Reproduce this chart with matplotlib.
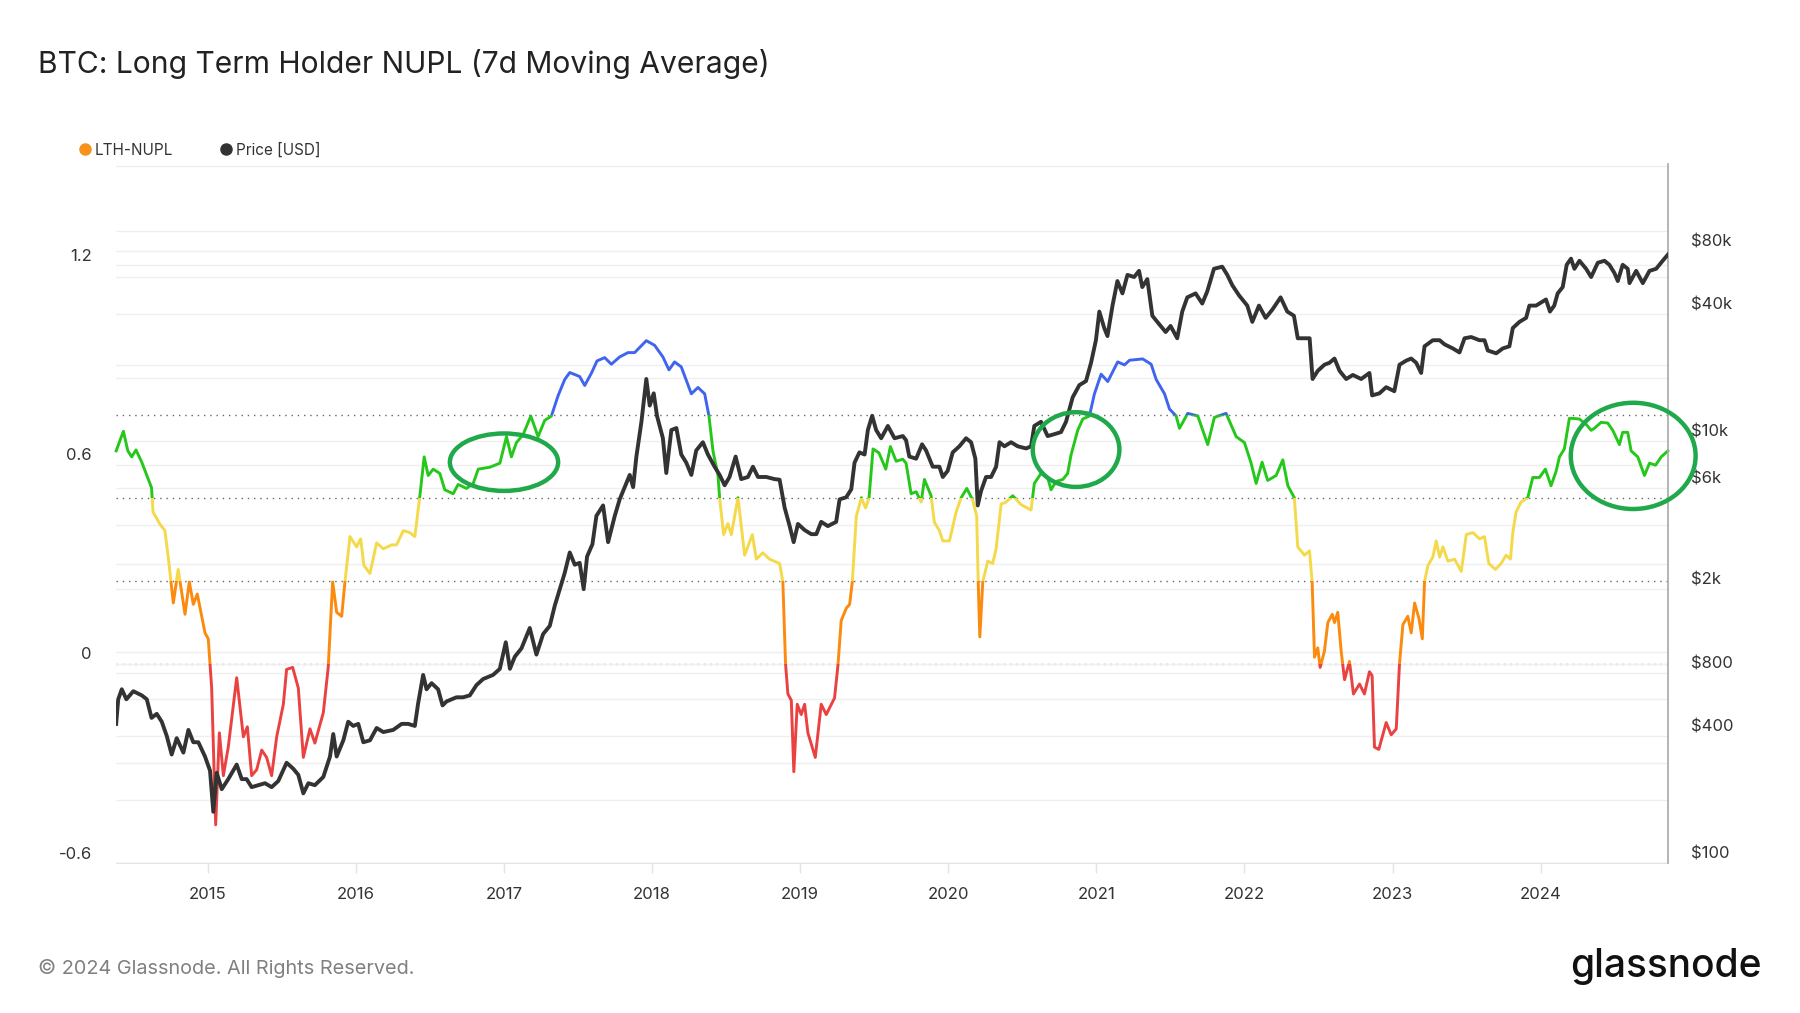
import numpy as np
import matplotlib
matplotlib.use("Agg")
import matplotlib.pyplot as plt
from matplotlib.patches import Rectangle, Ellipse
from matplotlib.lines import Line2D
from matplotlib.transforms import ScaledTranslation, blended_transform_factory

plt.rcParams["font.family"] = ["Inter", "DejaVu Sans"]

# LTH-NUPL (7d MA), time in decimal years
nupl_t = [2014.381, 2014.43, 2014.46, 2014.486, 2014.515, 2014.554, 2014.588, 2014.62, 2014.63, 2014.677,
          2014.71, 2014.733, 2014.767, 2014.80, 2014.846, 2014.875, 2014.902, 2014.929, 2014.981, 2015.003,
          2015.026, 2015.053, 2015.078, 2015.105, 2015.138, 2015.195, 2015.24, 2015.267, 2015.296, 2015.33,
          2015.364, 2015.397, 2015.431, 2015.465, 2015.51, 2015.532, 2015.573, 2015.611, 2015.645, 2015.69,
          2015.723, 2015.78, 2015.813, 2015.843, 2015.87, 2015.904, 2015.926, 2015.96, 2016.005, 2016.032,
          2016.054, 2016.095, 2016.14, 2016.185, 2016.241, 2016.275, 2016.32, 2016.364, 2016.398, 2016.432,
          2016.461, 2016.488, 2016.522, 2016.567, 2016.60, 2016.657, 2016.69, 2016.747, 2016.792, 2016.826,
          2016.905, 2016.972, 2017.017, 2017.05, 2017.084, 2017.129, 2017.181, 2017.23, 2017.275, 2017.32,
          2017.365, 2017.41, 2017.444, 2017.511, 2017.545, 2017.59, 2017.628, 2017.68, 2017.725, 2017.781,
          2017.837, 2017.882, 2017.961, 2018.017, 2018.073, 2018.114, 2018.152, 2018.197, 2018.265, 2018.31,
          2018.355, 2018.384, 2018.411, 2018.445, 2018.456, 2018.483, 2018.512, 2018.535, 2018.58, 2018.625,
          2018.677, 2018.704, 2018.748, 2018.793, 2018.861, 2018.883, 2018.901, 2018.917, 2018.94, 2018.957,
          2018.98, 2019.007, 2019.03, 2019.052, 2019.102, 2019.142, 2019.176, 2019.232, 2019.255, 2019.277,
          2019.311, 2019.334, 2019.352, 2019.379, 2019.413, 2019.442, 2019.465, 2019.492, 2019.532, 2019.578,
          2019.609, 2019.648, 2019.693, 2019.715, 2019.749, 2019.783, 2019.817, 2019.839, 2019.884, 2019.906,
          2019.94, 2019.963, 2020.008, 2020.053, 2020.087, 2020.125, 2020.165, 2020.192, 2020.202, 2020.213,
          2020.233, 2020.267, 2020.30, 2020.323, 2020.357, 2020.39, 2020.435, 2020.492, 2020.559, 2020.581,
          2020.626, 2020.671, 2020.694, 2020.728, 2020.773, 2020.806, 2020.829, 2020.874, 2020.908, 2020.953,
          2020.987, 2021.032, 2021.077, 2021.144, 2021.19, 2021.224, 2021.313, 2021.37, 2021.404, 2021.46,
          2021.494, 2021.539, 2021.561, 2021.617, 2021.685, 2021.752, 2021.797, 2021.876, 2021.944, 2022.0,
          2022.045, 2022.079, 2022.119, 2022.157, 2022.214, 2022.259, 2022.293, 2022.337, 2022.36, 2022.405,
          2022.439, 2022.457, 2022.473, 2022.495, 2022.511, 2022.54, 2022.563, 2022.593, 2022.608, 2022.63,
          2022.653, 2022.676, 2022.709, 2022.736, 2022.777, 2022.81, 2022.844, 2022.862, 2022.878, 2022.907,
          2022.957, 2022.991, 2023.025, 2023.047, 2023.07, 2023.103, 2023.126, 2023.149, 2023.178, 2023.201,
          2023.216, 2023.239, 2023.272, 2023.295, 2023.318, 2023.34, 2023.374, 2023.419, 2023.464, 2023.498,
          2023.543, 2023.587, 2023.621, 2023.65, 2023.695, 2023.733, 2023.767, 2023.796, 2023.812, 2023.834,
          2023.868, 2023.913, 2023.947, 2023.992, 2024.032, 2024.07, 2024.104, 2024.127, 2024.16, 2024.194,
          2024.217, 2024.262, 2024.307, 2024.341, 2024.363, 2024.408, 2024.453, 2024.487, 2024.532, 2024.554,
          2024.588, 2024.611, 2024.656, 2024.701, 2024.735, 2024.776, 2024.814, 2024.859]
nupl_v = [0.641, 0.700, 0.641, 0.623, 0.644, 0.607, 0.567, 0.530, 0.457, 0.420,
          0.401, 0.321, 0.183, 0.284, 0.149, 0.247, 0.179, 0.210, 0.093, 0.075,
          -0.073, -0.485, -0.208, -0.337, -0.251, -0.042, -0.220, -0.190, -0.337, -0.319,
          -0.260, -0.282, -0.337, -0.220, -0.122, -0.017, -0.011, -0.073, -0.282, -0.196,
          -0.239, -0.147, -0.011, 0.247, 0.155, 0.143, 0.247, 0.383, 0.352, 0.376,
          0.296, 0.272, 0.364, 0.346, 0.358, 0.358, 0.401, 0.395, 0.383, 0.506,
          0.623, 0.567, 0.586, 0.573, 0.524, 0.512, 0.540, 0.528, 0.543, 0.586,
          0.592, 0.604, 0.684, 0.623, 0.666, 0.690, 0.746, 0.684, 0.733, 0.746,
          0.807, 0.856, 0.877, 0.865, 0.838, 0.875, 0.912, 0.922, 0.902, 0.924,
          0.937, 0.937, 0.973, 0.959, 0.924, 0.885, 0.909, 0.894, 0.813, 0.832,
          0.813, 0.746, 0.641, 0.567, 0.500, 0.389, 0.422, 0.389, 0.500, 0.327,
          0.389, 0.315, 0.334, 0.315, 0.302, 0.247, 0.001, -0.091, -0.110, -0.325,
          -0.122, -0.153, -0.122, -0.208, -0.282, -0.122, -0.153, -0.103, -0.005, 0.130,
          0.167, 0.179, 0.247, 0.444, 0.500, 0.469, 0.500, 0.647, 0.635, 0.586,
          0.654, 0.610, 0.616, 0.604, 0.512, 0.518, 0.487, 0.555, 0.506, 0.426,
          0.401, 0.370, 0.370, 0.457, 0.500, 0.528, 0.493, 0.444, 0.247, 0.081,
          0.247, 0.309, 0.302, 0.346, 0.481, 0.487, 0.506, 0.479, 0.463, 0.543,
          0.573, 0.561, 0.524, 0.549, 0.555, 0.573, 0.629, 0.703, 0.737, 0.746,
          0.813, 0.872, 0.850, 0.909, 0.900, 0.914, 0.918, 0.902, 0.856, 0.813,
          0.767, 0.746, 0.709, 0.754, 0.746, 0.660, 0.742, 0.754, 0.684, 0.666,
          0.604, 0.543, 0.607, 0.552, 0.567, 0.614, 0.536, 0.500, 0.352, 0.327,
          0.340, 0.247, 0.020, 0.048, -0.011, 0.038, 0.124, 0.149, 0.124, 0.155,
          0.038, -0.048, 0.007, -0.091, -0.061, -0.091, -0.024, -0.036, -0.251, -0.258,
          -0.177, -0.214, -0.196, 0.001, 0.118, 0.143, 0.093, 0.183, 0.137, 0.075,
          0.247, 0.296, 0.321, 0.370, 0.321, 0.352, 0.309, 0.315, 0.278, 0.389,
          0.395, 0.376, 0.383, 0.302, 0.284, 0.302, 0.327, 0.315, 0.395, 0.457,
          0.487, 0.500, 0.561, 0.561, 0.586, 0.536, 0.579, 0.623, 0.647, 0.739,
          0.739, 0.737, 0.721, 0.703, 0.709, 0.727, 0.725, 0.703, 0.660, 0.697,
          0.697, 0.641, 0.623, 0.567, 0.604, 0.598, 0.623, 0.641]

# BTC price [USD], time in decimal years
price_t = [2014.381, 2014.395, 2014.419, 2014.45, 2014.497, 2014.554, 2014.588, 2014.62, 2014.655, 2014.689,
           2014.723, 2014.756, 2014.79, 2014.835, 2014.869, 2014.902, 2014.936, 2014.981, 2015.015, 2015.037,
           2015.06, 2015.094, 2015.138, 2015.195, 2015.229, 2015.262, 2015.296, 2015.341, 2015.386, 2015.431,
           2015.476, 2015.532, 2015.577, 2015.611, 2015.645, 2015.679, 2015.723, 2015.78, 2015.825, 2015.847,
           2015.87, 2015.915, 2015.948, 2015.982, 2016.016, 2016.05, 2016.095, 2016.14, 2016.185, 2016.252,
           2016.309, 2016.353, 2016.398, 2016.42, 2016.454, 2016.477, 2016.511, 2016.555, 2016.585, 2016.612,
           2016.679, 2016.724, 2016.769, 2016.814, 2016.859, 2016.926, 2016.972, 2017.012, 2017.04, 2017.073,
           2017.118, 2017.174, 2017.219, 2017.264, 2017.309, 2017.343, 2017.377, 2017.41, 2017.444, 2017.478,
           2017.511, 2017.538, 2017.561, 2017.597, 2017.624, 2017.669, 2017.703, 2017.748, 2017.781, 2017.815,
           2017.849, 2017.872, 2017.894, 2017.928, 2017.961, 2017.984, 2018.011, 2018.033, 2018.073, 2018.096,
           2018.13, 2018.164, 2018.197, 2018.231, 2018.265, 2018.298, 2018.343, 2018.377, 2018.422, 2018.456,
           2018.49, 2018.523, 2018.564, 2018.602, 2018.647, 2018.681, 2018.715, 2018.771, 2018.827, 2018.861,
           2018.895, 2018.929, 2018.956, 2018.985, 2019.03, 2019.075, 2019.109, 2019.142, 2019.187, 2019.243,
           2019.266, 2019.311, 2019.345, 2019.367, 2019.40, 2019.435, 2019.457, 2019.486, 2019.513, 2019.547,
           2019.592, 2019.637, 2019.693, 2019.715, 2019.737, 2019.783, 2019.823, 2019.85, 2019.895, 2019.94,
           2019.963, 2019.996, 2020.03, 2020.075, 2020.12, 2020.154, 2020.183, 2020.199, 2020.221, 2020.255,
           2020.289, 2020.323, 2020.346, 2020.379, 2020.424, 2020.469, 2020.526, 2020.559, 2020.581, 2020.626,
           2020.671, 2020.716, 2020.761, 2020.795, 2020.84, 2020.885, 2020.93, 2020.964, 2020.997, 2021.02,
           2021.053, 2021.075, 2021.109, 2021.142, 2021.176, 2021.21, 2021.255, 2021.288, 2021.31, 2021.344,
           2021.378, 2021.423, 2021.468, 2021.501, 2021.546, 2021.58, 2021.614, 2021.67, 2021.715, 2021.749,
           2021.794, 2021.85, 2021.884, 2021.918, 2021.963, 2022.019, 2022.053, 2022.098, 2022.143, 2022.188,
           2022.244, 2022.289, 2022.334, 2022.36, 2022.405, 2022.44, 2022.46, 2022.495, 2022.54, 2022.574,
           2022.608, 2022.642, 2022.687, 2022.732, 2022.788, 2022.844, 2022.862, 2022.911, 2022.957, 2023.012,
           2023.047, 2023.092, 2023.126, 2023.16, 2023.193, 2023.216, 2023.272, 2023.318, 2023.351, 2023.407,
           2023.452, 2023.486, 2023.531, 2023.587, 2023.621, 2023.643, 2023.70, 2023.744, 2023.789, 2023.812,
           2023.857, 2023.902, 2023.924, 2023.969, 2024.014, 2024.036, 2024.063, 2024.092, 2024.115, 2024.149,
           2024.176, 2024.205, 2024.228, 2024.262, 2024.307, 2024.341, 2024.386, 2024.431, 2024.464, 2024.498,
           2024.521, 2024.554, 2024.588, 2024.6, 2024.645, 2024.69, 2024.735, 2024.78, 2024.824, 2024.859]
price_v = [457, 598, 667, 598, 653, 624, 598, 488, 510, 468,
           400, 327, 391, 334, 428, 374, 374, 320, 274, 175,
           268, 224, 250, 293, 250, 250, 229, 234, 239, 229,
           245, 299, 280, 262, 214, 239, 234, 256, 320, 409,
           320, 382, 468, 447, 457, 374, 382, 437, 418, 428,
           457, 457, 447, 571, 780, 667, 713, 667, 559, 584,
           611, 611, 624, 698, 746, 780, 834, 1115, 834, 952,
           1043, 1303, 974, 1219, 1333, 1664, 1991, 2378, 2972, 2600,
           2654, 1991, 2845, 3250, 4434, 4967, 3326, 4434, 5308, 6066,
           6934, 6066, 8475, 12390, 19770, 14790, 16910, 13230, 10350, 7080,
           11320, 11570, 8665, 7925, 6934, 9060, 9910, 8665, 7585, 6934,
           6195, 6780, 8475, 6625, 6780, 7585, 6780, 6780, 6625, 6580,
           4850, 3965, 3326, 4060, 3797, 3631, 3631, 4153, 3965, 4153,
           5308, 5433, 5930, 7925, 8870, 8665, 11320, 13230, 11320, 10350,
           11840, 10350, 10600, 10130, 8475, 8280, 9685, 9060, 7585, 7585,
           6780, 7250, 8870, 9480, 10350, 9910, 8280, 4967, 5805, 6780,
           6780, 7585, 9910, 9480, 9910, 9480, 9260, 9480, 11840, 12390,
           10600, 10820, 11070, 12390, 16180, 18490, 19330, 23600, 30200, 41300,
           34500, 31600, 44080, 57640, 50360, 61640, 60230, 64410, 53960, 58860,
           39450, 36060, 33030, 35300, 30850, 41300, 48220, 50360, 45080, 51550,
           65890, 67430, 61640, 55060, 49330, 44080, 36900, 44080, 38550, 42150,
           48220, 41300, 39450, 30850, 30850, 30850, 19770, 21620, 23110, 23600,
           24720, 21620, 19770, 20660, 19770, 21120, 16530, 16900, 18080, 17300,
           23110, 24160, 24720, 23600, 21120, 28260, 30200, 30200, 28870, 27610,
           26420, 30850, 31270, 30200, 30200, 27000, 26170, 27610, 28260, 34500,
           36900, 38550, 44080, 44080, 46150, 47130, 41300, 44080, 50360, 53960,
           68850, 73600, 65890, 71930, 65890, 60230, 70400, 71930, 68850, 62930,
           57640, 68850, 65890, 56350, 64410, 56350, 64410, 65890, 71930, 76900]

years = list(range(2015, 2025))
nupl_ticks = [-0.6, 0, 0.6, 1.2]
nupl_levels = [0, 0.25, 0.5, 0.75]
price_ticks = [100, 400, 800, 2000, 6000, 10000, 40000, 80000]
price_tick_labels = ["$100", "$400", "$800", "$2k", "$6k", "$10k", "$40k", "$80k"]
price_grid = [100, 200, 400, 600, 800, 1000, 2000, 4000, 6000, 10000, 20000, 40000, 60000, 80000, 100000]

# colour bands of the NUPL line
bands = [(-10, 0, "#ea4141"), (0, 0.25, "#fb8a0e"), (0.25, 0.5, "#f4d94b"),
         (0.5, 0.75, "#25c81a"), (0.75, 10, "#4164ee")]

fig = plt.figure(figsize=(18, 10.13), dpi=100)
ax = fig.add_axes([116 / 1800, 150 / 1013, 1552 / 1800, 699 / 1013])
ax.set_xlim(2014.38, 2024.86)
ax.set_ylim(-0.6, 1.505)
ax2 = ax.twinx()
ax2.set_yscale("log")
ax2.set_ylim(100, 207000)

# grid lines (left every 0.3, right at price levels)
ax.set_yticks(np.arange(-0.6, 1.51, 0.3))
ax.yaxis.grid(True, color="#efefef", lw=1)
ax.tick_params(axis="y", left=False, labelleft=False)
rtrans = blended_transform_factory(ax.transAxes, ax2.transData)
for p in price_grid:
    ax.plot([0, 1], [p, p], color="#efefef", lw=1, transform=rtrans, zorder=0.5)
for lv in nupl_levels:
    ax.axhline(lv, color="#666666", lw=1, ls=(0, (1, 3.5)), zorder=1)

# NUPL line, coloured per band
for lo, hi, c in bands:
    ln, = ax.plot(nupl_t, nupl_v, color=c, lw=2.1, zorder=3, solid_joinstyle="round")
    ln.set_clip_path(Rectangle((2000, lo), 40, hi - lo, transform=ax.transData))

# price line
ax2.plot(price_t, price_v, color="#333333", lw=2.8, zorder=3, solid_joinstyle="round")
ax2.yaxis.set_major_locator(matplotlib.ticker.FixedLocator(price_grid))
ax2.yaxis.set_minor_locator(matplotlib.ticker.NullLocator())
ax2.tick_params(axis="y", right=False, labelright=False)

# annotation ellipses
for (cx, cy, w, h) in [(2017.0, 0.607, 0.731, 0.173), (2020.863, 0.645, 0.585, 0.225),
                       (2024.625, 0.626, 0.843, 0.320)]:
    ax2.add_patch(Ellipse((cx, cy), w, h, fill=False, ec="#20a94a", lw=3.2,
                          transform=ax.transData, clip_on=False, zorder=5))

# axis labels drawn slightly above their grid lines
lt = ax.get_yaxis_transform() + ScaledTranslation(-0.24, 0.09, fig.dpi_scale_trans)
for v in nupl_ticks:
    ax.text(0, v, f"{v:g}", transform=lt, ha="right", va="center", fontsize=12, color="#333333")
rt = blended_transform_factory(ax2.transAxes, ax2.transData) + ScaledTranslation(0.23, 0.09, fig.dpi_scale_trans)
for p, lab in zip(price_ticks, price_tick_labels):
    ax2.text(1, p, lab, transform=rt, ha="left", va="center", fontsize=12, color="#333333")

ax.set_xticks(years)
ax.set_xticklabels([str(y) for y in years])
ax.tick_params(axis="x", direction="out", length=7, width=1, color="#e4e4e4",
               labelsize=12, labelcolor="#333333", pad=10)

for s in ["top", "left", "right"]:
    ax.spines[s].set_visible(False)
for s in ["top", "left", "bottom"]:
    ax2.spines[s].set_visible(False)
ax.spines["bottom"].set_color("#e4e4e4")
ax2.spines["right"].set_color("#a8a8a8")
ax2.spines["right"].set_linewidth(1.2)

# legend
handles = [Line2D([], [], marker="o", ls="", color="#f7931a", ms=8),
           Line2D([], [], marker="o", ls="", color="#333333", ms=8)]
fig.legend(handles, ["LTH-NUPL", "Price [USD]"], loc="center left",
           bbox_to_anchor=(80 / 1800, 1 - 150 / 1013), ncol=2, frameon=False,
           fontsize=11, handlelength=0.6, handletextpad=0.35, columnspacing=3.2,
           borderpad=0, borderaxespad=0, labelcolor="#333333")

fig.text(38 / 1800, 1 - 64 / 1013, "BTC: Long Term Holder NUPL (7d Moving Average)",
         fontsize=21.6, color="#222222", va="center")
fig.text(38 / 1800, 1 - 968 / 1013, "© 2024 Glassnode. All Rights Reserved.",
         fontsize=14.3, color="#808080", va="center")
fig.text(1762 / 1800, 1 - 966 / 1013, "glassnode", fontsize=28, color="#111111",
         ha="right", va="center", fontweight="medium")

fig.savefig("out.png", dpi=100, facecolor="white")
